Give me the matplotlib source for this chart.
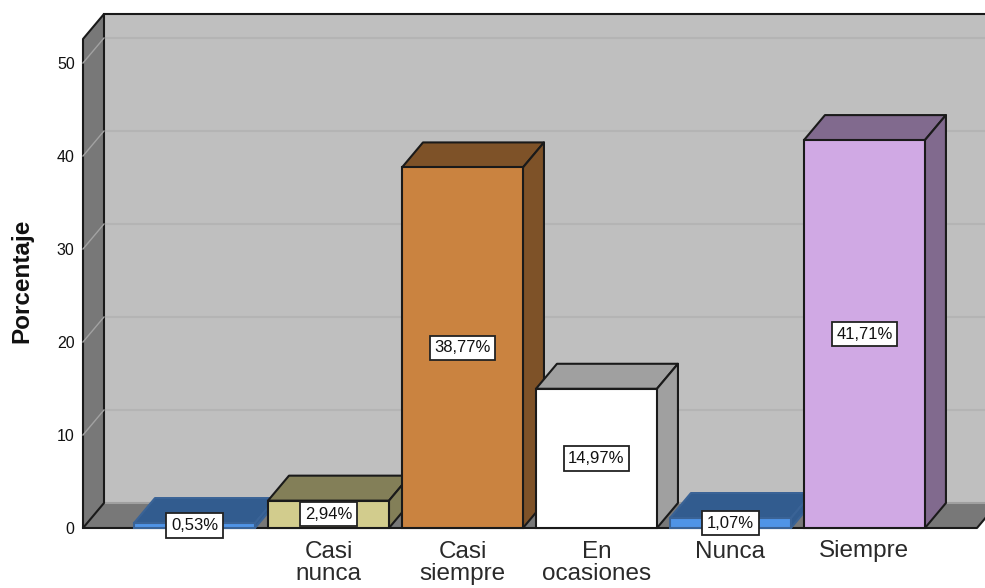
import matplotlib
matplotlib.use('Agg')
import matplotlib.pyplot as plt
from matplotlib.patches import Polygon

plt.rcParams['font.family'] = ['Liberation Sans', 'DejaVu Sans']

# Data
categories = ['', 'Casi\nnunca', 'Casi\nsiempre', 'En\nocasiones', 'Nunca', 'Siempre']
values = [0.53, 2.94, 38.77, 14.97, 1.07, 41.71]
value_labels = ['0,53%', '2,94%', '38,77%', '14,97%', '1,07%', '41,71%']
yticks = [0, 10, 20, 30, 40, 50]

front_colors = ['#4f94e6', '#d2cc8d', '#ca8340', '#ffffff', '#4f94e6', '#d0a9e4']
top_colors = ['#325c8f', '#837f58', '#7e5228', '#a0a0a0', '#325c8f', '#816a8e']
side_colors = ['#325c8f', '#837f58', '#7e5228', '#a0a0a0', '#325c8f', '#816a8e']

edge = '#1a1a1a'
bar_edges = ['#3a6396', edge, edge, edge, '#3a6396', edge]
wall = '#bfbfbf'
dark_wall = '#787878'

fig = plt.figure(figsize=(9.85, 5.88), dpi=100)
ax = fig.add_axes([83/985, 60/588, 894/985, 489/588])

# 134 px per category, 9.3 px per percent
ax.set_xlim(-0.832, 5.84)
ax.set_ylim(0, 52.58)
width = 121/134
dx = 21/134
dy = 25/9.3

x0, x1 = ax.get_xlim()
ytop = ax.get_ylim()[1]

ax.patch.set_visible(False)
for s in ax.spines.values():
    s.set_visible(False)


def poly(pts, fc, ec='none', lw=0, z=1):
    ax.add_patch(Polygon(pts, closed=True, facecolor=fc, edgecolor=ec, linewidth=lw,
                         zorder=z, clip_on=False, joinstyle='round'))


# walls
poly([(x0+dx, dy), (x1+dx*2, dy), (x1+dx*2, ytop+dy), (x0+dx, ytop+dy)], wall, z=1)
poly([(x0, 0), (x0+dx, dy), (x0+dx, ytop+dy), (x0, ytop)], dark_wall, edge, 1.5, z=1.5)
poly([(x0, 0), (x1, 0), (x1+dx, dy), (x0+dx, dy)], dark_wall, z=1.2)

# gridlines on back wall and left wall
for t in yticks[1:]:
    ax.plot([x0+dx, x1+dx*2], [t+dy, t+dy], color='#b4b4b4', lw=1.5, zorder=1.1, clip_on=False)
    ax.plot([x0, x0+dx], [t, t+dy], color='#a2a2a2', lw=1.0, zorder=1.6, clip_on=False)
ax.plot([x0+dx, x1+dx], [dy, dy], color='#a0a0a0', lw=1.5, zorder=1.3, clip_on=False)

# frame lines
ax.plot([x0+dx, x1+dx*2], [ytop+dy, ytop+dy], color=edge, lw=1.5, zorder=2, clip_on=False)
ax.plot([x0, x1, x1+dx], [0, 0, dy], color=edge, lw=1.5, zorder=2, clip_on=False)

# bars, left to right so that later ones cover earlier ones
for i, v in enumerate(values):
    z = 3 + i
    left = i - width/2
    right = i + width/2
    poly([(left, v), (right, v), (right+dx, v+dy), (left+dx, v+dy)], top_colors[i], bar_edges[i], 1.5, z)
    poly([(right, 0), (right+dx, dy), (right+dx, v+dy), (right, v)], side_colors[i], bar_edges[i], 1.5, z)
    ax.bar(i, v, width=width, color=front_colors[i], edgecolor=bar_edges[i], linewidth=1.5, zorder=z, clip_on=False)

for i, v in enumerate(values):
    ax.text(i, v/2, value_labels[i], ha='center', va='center', fontsize=12, color='#111111', zorder=12,
            bbox=dict(boxstyle='square,pad=0.28', facecolor='white', edgecolor='#222222', linewidth=1.3),
            clip_on=False)

ax.set_xticks(range(len(categories)))
ax.set_xticklabels(categories, fontsize=17.5, color='#2a2a2a', linespacing=1.02)
ax.set_yticks(yticks)
ax.set_yticklabels([str(t) for t in yticks], fontsize=11.5, color='#111111')
ax.tick_params(axis='x', length=0, pad=9)
ax.tick_params(axis='y', length=0, pad=6)

fig.text(22/985, 1-281/588, 'Porcentaje', rotation=90, ha='center', va='center',
         fontsize=17.5, fontweight='bold', color='#111111')

fig.savefig('out.png', dpi=100, facecolor='white')
